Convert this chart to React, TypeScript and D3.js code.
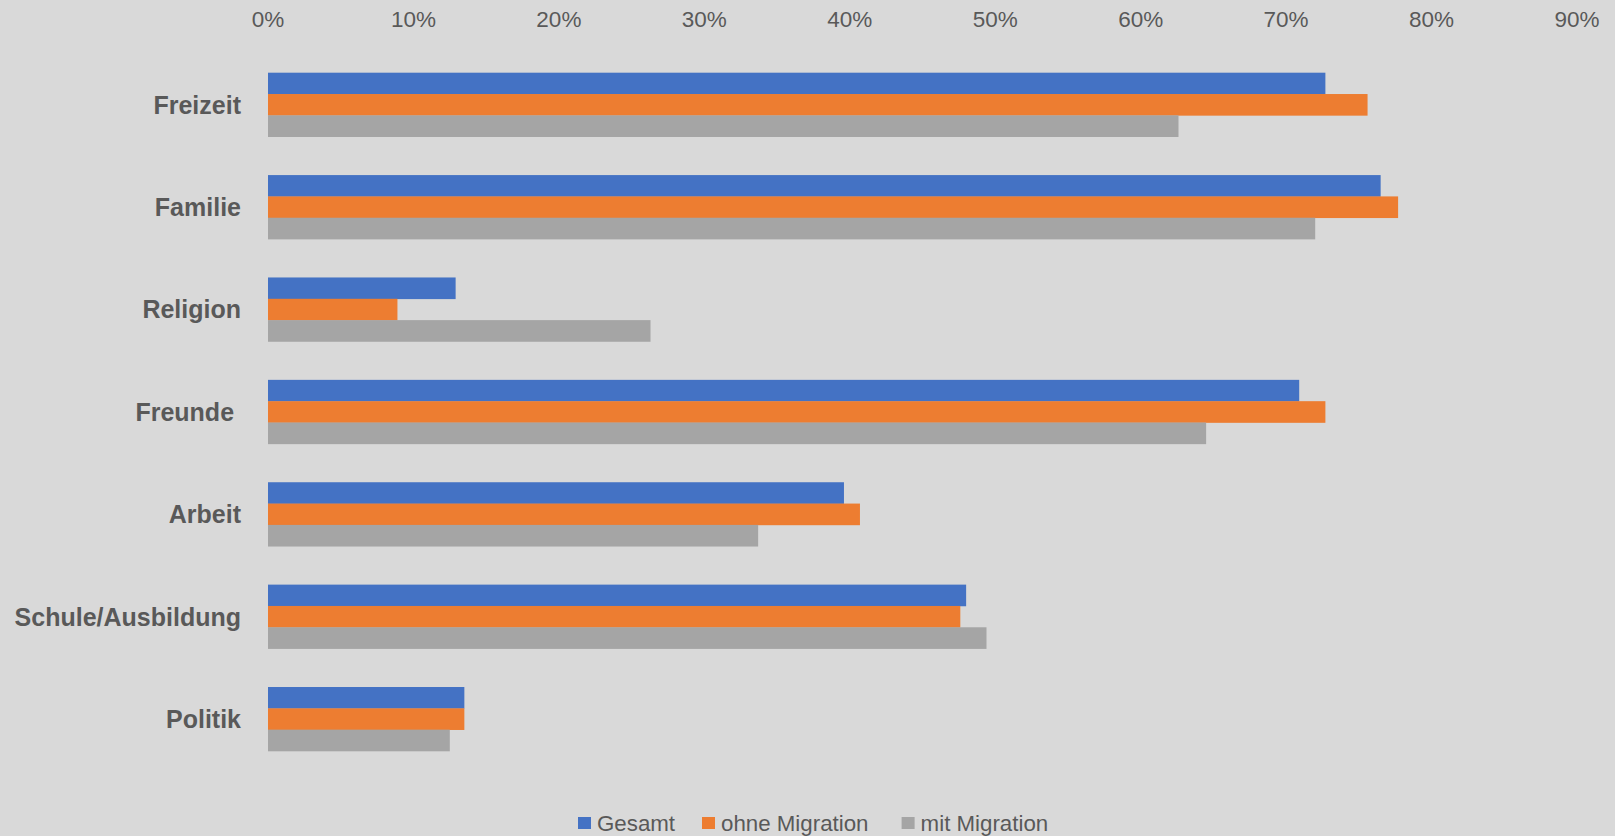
import React, { useEffect, useRef } from "react";
import * as d3 from "d3";

const categories = ["Freizeit", "Familie", "Religion", "Freunde ", "Arbeit", "Schule/Ausbildung", "Politik"];
const seriesNames = ["Gesamt", "ohne Migration", "mit Migration"];
const gesamt = [0.727, 0.765, 0.129, 0.709, 0.396, 0.48, 0.135];
const ohneMigration = [0.756, 0.777, 0.089, 0.727, 0.407, 0.476, 0.135];
const mitMigration = [0.626, 0.72, 0.263, 0.645, 0.337, 0.494, 0.125];
const tickValues = [0, 0.1, 0.2, 0.3, 0.4, 0.5, 0.6, 0.7, 0.8, 0.9];
const colors = ["#4472c4", "#ed7d31", "#a5a5a5"];

const W = 1615;
const H = 836;

export default function App() {
  const ref = useRef<SVGSVGElement | null>(null);

  useEffect(() => {
    const svg = d3.select(ref.current);
    svg.selectAll("*").remove();
    const values = [gesamt, ohneMigration, mitMigration];

    svg.append("rect").attr("x", 0).attr("y", 0).attr("width", W).attr("height", H).attr("fill", "#d9d9d9");

    const x = d3.scaleLinear().domain([0, 0.9]).range([268, 1577]);
    const y = d3.scaleBand<string>().domain(categories).range([53.5, 770.2]).paddingInner(0.375).paddingOuter(0.1875);
    const ys = d3.scaleBand<string>().domain(seriesNames).range([0, y.bandwidth()]);

    // tick labels
    svg.append("g").selectAll("text").data(tickValues).join("text")
      .attr("x", (d) => x(d))
      .attr("y", 27)
      .attr("text-anchor", "middle")
      .attr("font-family", "'Liberation Sans', Arial, sans-serif")
      .attr("font-size", 22.5)
      .attr("fill", "#595959")
      .text((d) => d3.format(".0%")(d));

    // bars
    const groups = svg.append("g").selectAll("g").data(categories).join("g")
      .attr("transform", (c) => `translate(0,${y(c)})`);
    groups.selectAll("rect").data((c) => seriesNames.map((s, k) => ({ s, k, v: values[k][categories.indexOf(c)] }))).join("rect")
      .attr("x", x(0))
      .attr("y", (d) => ys(d.s) as number)
      .attr("width", (d) => x(d.v) - x(0))
      .attr("height", ys.bandwidth() + 0.3)
      .attr("fill", (d) => colors[d.k]);

    // category labels
    svg.append("g").selectAll("text").data(categories).join("text")
      .attr("x", 241)
      .attr("y", (c) => (y(c) as number) + y.bandwidth() / 2 + 9)
      .attr("text-anchor", "end")
      .attr("font-family", "'Liberation Sans', Arial, sans-serif")
      .attr("font-weight", "bold")
      .attr("font-size", 25)
      .attr("fill", "#595959")
      .style("white-space", "pre")
      .text((c) => c);

    // legend
    const legendX = [578, 702, 901.6];
    const lg = svg.append("g").selectAll("g").data(seriesNames).join("g")
      .attr("transform", (d, i) => `translate(${legendX[i]},0)`);
    lg.append("rect").attr("x", 0).attr("y", 817).attr("width", 13).attr("height", 12).attr("fill", (d, i) => colors[i]);
    lg.append("text")
      .attr("x", 19)
      .attr("y", 831)
      .attr("font-family", "'Liberation Sans', Arial, sans-serif")
      .attr("font-size", 22.3)
      .attr("fill", "#595959")
      .text((d) => d);
  }, []);

  return (
    <svg ref={ref} width={W} height={H} style={{ position: "absolute", left: 0, top: 0, display: "block" }} />
  );
}
